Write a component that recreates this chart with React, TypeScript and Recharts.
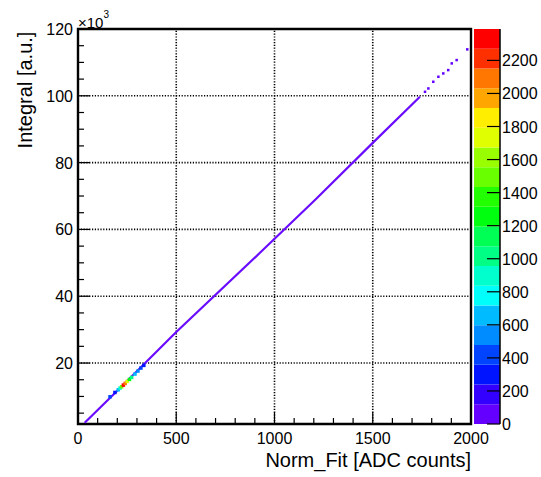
import {
  ScatterChart, Scatter, XAxis, YAxis, ReferenceLine, ReferenceArea,
  BarChart, Bar
} from 'recharts';

const FONT = '"Liberation Sans", Arial, Helvetica, sans-serif';

// main diagonal band (low-count bins): Norm_Fit vs Integral (x10^3)
const lineX = [34, 200, 500, 926, 1206, 1500, 1740];
const lineY = [2.1, 11.7, 29.3, 53.0, 68.8, 85.9, 99.7];

// sparse bins at the upper end of the band
const tailX = [1766, 1783, 1808, 1834, 1859, 1884, 1902, 1927, 1981];
const tailY = [101.2, 102.2, 104.2, 105.7, 106.7, 107.7, 109.7, 110.7, 113.9];
const tailZ = [40, 30, 35, 25, 30, 20, 25, 20, 15];

// high-count bins around Norm_Fit ~ 160-340
const hotX = [163, 188, 205, 214, 222, 231, 240, 250, 262, 273, 290, 305, 320, 335];
const hotY = [9.9, 11.2, 12.0, 12.5, 12.9, 13.4, 13.9, 14.5, 15.1, 15.7, 16.7, 17.6, 18.5, 19.3];
const hotZ = [450, 300, 650, 900, 1500, 2300, 2050, 1750, 1250, 1000, 700, 520, 400, 260];

// colour scale: 20 contour levels + ROOT "pretty" palette
const zLevels = [0, 119.5, 239, 358.5, 478, 597.5, 717, 836.5, 956, 1075.5, 1195,
  1314.5, 1434, 1553.5, 1673, 1792.5, 1912, 2031.5, 2151, 2270.5, 2390];
const palette = ['#6300ff', '#3300ff', '#0014ff', '#0044ff', '#008bff', '#00bbff', '#00fffb',
  '#00ffcc', '#00ff85', '#00ff55', '#00ff0e', '#22ff00', '#69ff00', '#99ff00', '#e0ff00',
  '#ffee00', '#ffa700', '#ff7700', '#ff3000', '#ff0000'];
const zTicks = [0, 200, 400, 600, 800, 1000, 1200, 1400, 1600, 1800, 2000, 2200];

const xTicks = [0, 100, 200, 300, 400, 500, 600, 700, 800, 900, 1000, 1100, 1200, 1300, 1400,
  1500, 1600, 1700, 1800, 1900, 2000];
const xMajor = [0, 500, 1000, 1500, 2000];
const yTicks = [5, 10, 15, 20, 25, 30, 35, 40, 45, 50, 55, 60, 65, 70, 75, 80, 85, 90, 95,
  100, 105, 110, 115, 120];
const yMajor = [20, 40, 60, 80, 100, 120];
const Y_MIN = 1.75;

const colorFor = (z: number) => {
  for (let i = 0; i < palette.length; i++) {
    if (z < zLevels[i + 1]) return palette[i];
  }
  return palette[palette.length - 1];
};

const lineData = lineX.map((x, i) => ({ x, y: lineY[i] }));
const tailData = tailX.map((x, i) => ({ x, y: tailY[i], z: tailZ[i] }));
const hotData = hotX.map((x, i) => ({ x, y: hotY[i], z: hotZ[i] }));
const barRow = [palette.reduce((row: any, _, i) => {
  row['b' + i] = zLevels[i + 1] - zLevels[i];
  return row;
}, { name: 'z' })];

const BinCell = ({ cx, cy, payload, size = 3 }: any) => (
  <rect x={cx - size / 2} y={cy - size / 2} width={size} height={size} fill={colorFor(payload.z)} />
);

const XTick = ({ x, y, payload }: any) => {
  const major = xMajor.includes(payload.value);
  return (
    <g>
      <line x1={x} x2={x} y1={y} y2={y - (major ? 12 : 6)} stroke="#000" strokeWidth={1.2} />
      {major && (
        <text x={x} y={y + 20} textAnchor="middle" fontSize={16} fontFamily={FONT} fill="#000">
          {payload.value}
        </text>
      )}
    </g>
  );
};

const YTick = ({ x, y, payload }: any) => {
  const major = yMajor.includes(payload.value);
  return (
    <g>
      <line x1={x} x2={x + (major ? 12 : 6)} y1={y} y2={y} stroke="#000" strokeWidth={1.2} />
      {major && (
        <text x={x - 5} y={y + 6} textAnchor="end" fontSize={16} fontFamily={FONT} fill="#000">
          {payload.value}
        </text>
      )}
    </g>
  );
};

const ZTick = ({ x, y, payload }: any) => (
  <g>
    <line x1={x - 13} x2={x} y1={y} y2={y} stroke="#000" strokeWidth={1.2} />
    <text x={x + 2} y={y + 6} textAnchor="start" fontSize={16} fontFamily={FONT} fill="#000">
      {payload.value}
    </text>
  </g>
);

export default function App() {
  return (
    <div style={{ position: 'absolute', left: 0, top: 0, width: 541, height: 477, background: '#fff', fontFamily: FONT }}>
      <ScatterChart width={541} height={477} margin={{ top: 29, right: 70, bottom: 23, left: 38 }}>
        <XAxis type="number" dataKey="x" domain={[0, 2000]} ticks={xTicks} interval={0} allowDataOverflow
          height={30} tickSize={0} tickMargin={0} tickLine={false} axisLine={false} tick={(p: any) => <XTick {...p} />} />
        <YAxis type="number" dataKey="y" domain={[Y_MIN, 120]} ticks={yTicks} interval={0} allowDataOverflow
          width={40} tickSize={0} tickMargin={0} tickLine={false} axisLine={false} tick={(p: any) => <YTick {...p} />} />
        {xMajor.slice(1).map(v => (
          <ReferenceLine key={'gx' + v} x={v} stroke="#000" strokeWidth={1.6} strokeDasharray="1.2 1.6" />
        ))}
        {yMajor.map(v => (
          <ReferenceLine key={'gy' + v} y={v} stroke="#000" strokeWidth={1.6} strokeDasharray="1.2 1.6" />
        ))}
        <Scatter data={lineData} line={{ stroke: '#6a0cff', strokeWidth: 2.2 }} shape={() => <g />} isAnimationActive={false} />
        <Scatter data={tailData} shape={(p: any) => <BinCell {...p} size={2.5} />} isAnimationActive={false} />
        <Scatter data={hotData} shape={(p: any) => <BinCell {...p} size={3.5} />} isAnimationActive={false} />
        <ReferenceArea x1={0} x2={2000} y1={Y_MIN} y2={120} fill="none" fillOpacity={0} stroke="#000" strokeWidth={2.4} />
      </ScatterChart>

      <div style={{ position: 'absolute', left: 474, top: 0 }}>
        <BarChart width={67} height={477} data={barRow} margin={{ top: 29, right: 0, bottom: 53, left: 0 }} barCategoryGap={0} barGap={0}>
          <XAxis dataKey="name" hide />
          <YAxis orientation="right" type="number" domain={[0, zLevels[zLevels.length - 1]]} ticks={zTicks} interval={0}
            allowDataOverflow width={41} tickSize={0} tickMargin={0} tickLine={false}
            axisLine={{ stroke: '#000', strokeWidth: 1.5 }} tick={(p: any) => <ZTick {...p} />} />
          {palette.map((c, i) => (
            <Bar key={i} dataKey={'b' + i} stackId="z" fill={c} isAnimationActive={false} />
          ))}
        </BarChart>
      </div>

      <div style={{ position: 'absolute', left: 78, top: 15, fontSize: 15, lineHeight: 1, color: '#000', whiteSpace: 'nowrap' }}>
        ×10<sup style={{ fontSize: 10, verticalAlign: 'top', position: 'relative', top: -5 }}>3</sup>
      </div>

      <div style={{
        position: 'absolute', left: 25, top: 90, fontSize: 20, lineHeight: 1, color: '#000', whiteSpace: 'nowrap',
        transform: 'translate(-50%, -50%) rotate(-90deg)'
      }}>
        Integral [a.u.]
      </div>

      <div style={{ position: 'absolute', right: 70, top: 449, fontSize: 20, lineHeight: '22px', color: '#000', whiteSpace: 'nowrap' }}>
        Norm_Fit [ADC counts]
      </div>
    </div>
  );
}
